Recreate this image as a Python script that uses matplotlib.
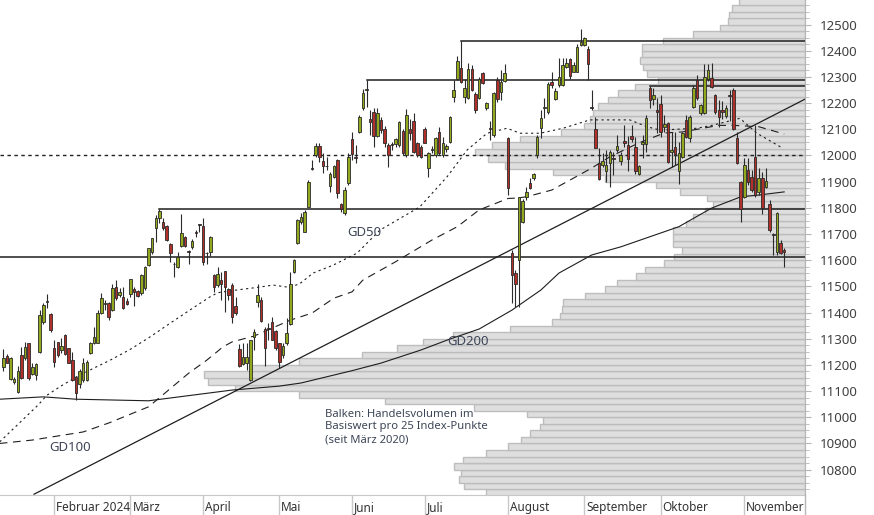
import matplotlib
matplotlib.use("Agg")
import matplotlib.pyplot as plt
from matplotlib.lines import Line2D
import numpy as np

plt.rcParams['font.family'] = ['Noto Sans', 'DejaVu Sans']

# SMI daily candles, 12.01.2024 - 18.11.2024, one entry per trading day
opens = [11193, 11235, 11146, 11133, 11095, 11236, 11225, 11282, 11165, 11161, 11250, 11365,
         11440, 11394, 11263, 11286, 11256, 11314, 11263, 11218, 11152, 11127, 11142, 11142,
         11244, 11282, 11284, 11397, 11432, 11435, 11409, 11496, 11467, 11458, 11445, 11471,
         11489, 11483, 11473, 11492, 11582, 11633, 11722, 11760, 11745, 11731, 11662, 11586,
         11575, 11654, 11687, 11633, 11649, 11705, 11736, 11731, 11628, 11633, 11543, 11505,
         11524, 11559, 11489, 11505, 11425, 11261, 11203, 11208, 11142, 11305, 11441, 11448,
         11339, 11340, 11365, 11330, 11282, 11238, 11282, 11356, 11555, 11664, 11747, 11709,
         11804, 11951, 12002, 12036, 11979, 11960, 11883, 11919, 11983, 11815, 11779, 11894,
         12062, 11995, 12091, 12180, 12250, 12140, 12168, 12075, 12136, 12100, 12040, 12043,
         12044, 12040, 12095, 12001, 12100, 12131, 12046, 12033, 12103, 11951, 12024, 12001,
         12091, 12001, 12023, 12052, 12222, 12291, 12333, 12222, 12218, 12329, 12235, 12218,
         12316, 12180, 12105, 12078, 12288, 12244, 12286, 12065, 11626, 11552, 11600, 11747,
         11843, 11896, 11913, 12003, 12106, 12183, 12167, 12280, 12216, 12269, 12269, 12339,
         12369, 12320, 12320, 12422, 12422, 12405, 12185, 12101, 11973, 11963, 11942, 11973,
         11992, 12022, 11979, 12057, 12041, 12076, 12031, 11931, 12044, 12045, 12257, 12216,
         12172, 12195, 12110, 12123, 12015, 12034, 11941, 11995, 12136, 12066, 12187, 12288,
         12161, 12161, 12292, 12297, 12231, 12174, 12172, 12152, 12233, 12250, 12066, 11900,
         11843, 11944, 11919, 11995, 11862, 11915, 11881, 11813, 11700, 11632, 11664, 11639]
highs = [11259, 11241, 11231, 11155, 11195, 11269, 11288, 11284, 11206, 11206, 11409, 11435,
         11470, 11397, 11295, 11288, 11301, 11320, 11263, 11250, 11155, 11183, 11228, 11218,
         11288, 11346, 11409, 11473, 11448, 11441, 11511, 11524, 11492, 11496, 11454, 11530,
         11497, 11487, 11547, 11578, 11648, 11686, 11773, 11794, 11760, 11734, 11664, 11594,
         11633, 11776, 11692, 11639, 11680, 11715, 11738, 11760, 11633, 11692, 11547, 11575,
         11556, 11560, 11492, 11514, 11461, 11280, 11285, 11285, 11297, 11336, 11511, 11461,
         11346, 11359, 11384, 11333, 11285, 11282, 11378, 11556, 11603, 11756, 11780, 11792,
         11906, 11983, 12047, 12047, 12008, 11996, 11938, 11964, 11985, 11820, 11881, 12008,
         12091, 12040, 12155, 12253, 12290, 12174, 12180, 12180, 12148, 12113, 12046, 12050,
         12065, 12133, 12100, 12176, 12138, 12161, 12052, 12040, 12107, 12014, 12036, 12069,
         12107, 12071, 12045, 12151, 12288, 12380, 12436, 12291, 12354, 12345, 12244, 12301,
         12320, 12205, 12130, 12244, 12298, 12326, 12349, 12072, 11638, 11562, 11843, 11832,
         11880, 11914, 11935, 12080, 12174, 12218, 12281, 12320, 12256, 12371, 12371, 12371,
         12371, 12358, 12425, 12483, 12452, 12420, 12249, 12148, 12027, 12008, 12021, 12021,
         12014, 12078, 12014, 12116, 12076, 12116, 12071, 11963, 12078, 12155, 12265, 12257,
         12218, 12231, 12155, 12129, 12091, 12091, 12053, 12091, 12155, 12155, 12269, 12308,
         12195, 12348, 12348, 12352, 12234, 12212, 12210, 12193, 12250, 12257, 12091, 11902,
         11989, 11989, 11944, 12116, 11951, 11938, 11951, 11830, 11705, 11785, 11677, 11645]
lows = [11177, 11206, 11142, 11129, 11091, 11148, 11218, 11142, 11161, 11142, 11246, 11358,
        11416, 11327, 11193, 11231, 11246, 11237, 11206, 11139, 11065, 11110, 11135, 11139,
        11241, 11279, 11282, 11394, 11409, 11371, 11407, 11448, 11460, 11412, 11428, 11460,
        11425, 11461, 11467, 11488, 11579, 11624, 11671, 11741, 11715, 11675, 11594, 11537,
        11569, 11652, 11652, 11585, 11641, 11687, 11709, 11582, 11585, 11616, 11480, 11496,
        11448, 11403, 11448, 11359, 11391, 11193, 11199, 11180, 11140, 11257, 11422, 11365,
        11196, 11295, 11295, 11257, 11187, 11225, 11276, 11352, 11550, 11662, 11740, 11706,
        11802, 11945, 11996, 11976, 11932, 11945, 11862, 11915, 11836, 11785, 11771, 11887,
        11983, 11970, 12087, 12174, 12187, 12078, 12031, 12072, 12085, 12034, 11955, 12020,
        12034, 12033, 12001, 11995, 12059, 12008, 11995, 11989, 12046, 11919, 12010, 11995,
        12001, 11995, 12015, 12046, 12205, 12288, 12278, 12199, 12214, 12247, 12163, 12214,
        12273, 12175, 12060, 12072, 12205, 12212, 12282, 11849, 11435, 11422, 11422, 11743,
        11830, 11872, 11905, 11990, 12066, 12142, 12160, 12257, 12211, 12263, 12266, 12333,
        12294, 12320, 12318, 12419, 12419, 12290, 12174, 12027, 11906, 11957, 11900, 11881,
        11925, 12014, 11963, 12033, 11941, 12053, 11930, 11927, 11991, 12014, 12180, 12193,
        12085, 12072, 12091, 11970, 11957, 11964, 11890, 11989, 12066, 12050, 12180, 12212,
        12155, 12157, 12285, 12257, 12157, 12110, 12140, 12142, 12130, 12097, 11966, 11745,
        11839, 11887, 11862, 11843, 11849, 11775, 11877, 11709, 11620, 11620, 11622, 11575]
closes = [11225, 11208, 11228, 11146, 11177, 11151, 11269, 11151, 11193, 11202, 11390, 11428,
          11442, 11333, 11212, 11237, 11272, 11241, 11208, 11142, 11091, 11177, 11209, 11212,
          11282, 11307, 11397, 11454, 11435, 11384, 11492, 11454, 11479, 11416, 11432, 11527,
          11480, 11464, 11543, 11575, 11645, 11683, 11760, 11788, 11722, 11677, 11626, 11584,
          11613, 11703, 11654, 11631, 11675, 11703, 11734, 11594, 11626, 11687, 11496, 11547,
          11509, 11496, 11467, 11384, 11397, 11197, 11231, 11231, 11295, 11325, 11467, 11369,
          11263, 11338, 11297, 11263, 11212, 11272, 11323, 11511, 11601, 11753, 11766, 11786,
          11900, 11949, 12036, 11996, 11960, 11958, 11929, 11960, 11855, 11794, 11868, 11996,
          12006, 11990, 12146, 12240, 12252, 12128, 12075, 12164, 12097, 12046, 12002, 12040,
          12062, 12129, 12008, 12154, 12087, 12014, 12001, 11995, 12049, 12008, 12022, 12065,
          12010, 12049, 12036, 12148, 12252, 12362, 12282, 12256, 12329, 12250, 12173, 12294,
          12278, 12201, 12103, 12237, 12214, 12282, 12314, 11874, 11543, 11511, 11840, 11826,
          11862, 11875, 11929, 12072, 12144, 12186, 12272, 12269, 12246, 12301, 12346, 12352,
          12305, 12346, 12416, 12435, 12448, 12348, 12180, 12030, 11910, 11978, 11963, 12014,
          11988, 12036, 12002, 12047, 11987, 12063, 11942, 11960, 12051, 12144, 12212, 12231,
          12168, 12088, 12120, 11976, 12020, 12004, 12008, 12085, 12072, 12148, 12259, 12218,
          12193, 12301, 12327, 12263, 12165, 12148, 12168, 12180, 12229, 12101, 11970, 11795,
          11964, 11897, 11868, 11849, 11913, 11798, 11903, 11715, 11698, 11779, 11626, 11630]

# month starts (trading day index) and labels
month_idx = [14, 35, 55, 76, 96, 116, 139, 160, 181, 204]
month_lbl = ['Februar 2024', 'März', 'April', 'Mai', 'Juni', 'Juli', 'August',
             'September', 'Oktober', 'November']

# moving averages (day index, value)
gd50_day = [-1, 9.6, 12, 15.6, 20.2, 25.7, 29.4, 34.9, 40.4, 45.9, 51.4, 56.9, 59.1, 62.4,
            69.9, 74.3, 78.9, 81.7, 85.3, 90.8, 97.4, 103.7, 114.7, 122.2, 127.7, 133.2,
            138.7, 142.3, 147.8, 154.1, 161.5, 172.5, 177.2, 180.8, 191, 195.4, 202.8,
            207.5, 214.7]
gd50_val = [10906, 11047, 11084, 11117, 11155, 11193, 11218, 11259, 11307, 11359, 11410,
            11460, 11476, 11483, 11496, 11505, 11496, 11511, 11551, 11581, 11627, 11715,
            11804, 11919, 12021, 12085, 12104, 12085, 12085, 12104, 12136, 12136, 12110,
            12097, 12104, 12116, 12142, 12085, 12027]
gd100_day = [-1, 8, 22, 29, 40, 45.5, 51, 56, 60.5, 63, 69, 79, 85, 91, 96, 99, 108, 118,
             125, 131, 139, 141, 144, 151, 156, 162, 167, 175, 182, 187, 197, 201, 208, 215]
gd100_val = [10900, 10913, 10944, 10978, 11040, 11104, 11168, 11218, 11269, 11288, 11310,
             11371, 11398, 11455, 11479, 11524, 11594, 11677, 11728, 11792, 11836, 11837,
             11842, 11868, 11906, 11952, 11995, 12048, 12086, 12090, 12115, 12115, 12110,
             12082]
gd200_day = [-1, 11, 20, 40, 63, 76, 82, 96, 104, 115, 123, 131, 140, 148, 153, 162, 170,
             186, 195, 203, 208, 215]
gd200_val = [11069, 11078, 11069, 11063, 11104, 11119, 11131, 11178, 11207, 11257, 11299,
             11337, 11409, 11486, 11551, 11620, 11651, 11728, 11799, 11842, 11849, 11861]

# trend line and horizontal levels (start day, level)
trend_day = [8.45, 220.7]
trend_val = [10706, 12215]
level_start = [-1, 43, 100, 126, 178]
level_val = [11612, 11794, 12290, 12436, 12265]

# volume profile: bin lower edge (25 points per bin) and bar length
vol_bin = list(range(10700, 12600, 25))
vol_len = [319, 341, 346, 344, 351, 342, 319, 297, 284, 275, 265, 262, 278, 331, 420, 506,
           570, 597, 601, 555, 506, 443, 408, 382, 352, 295, 253, 245, 243, 242, 220, 200,
           188, 169, 160, 141, 131, 123, 132, 132, 132, 119, 112, 100, 92, 98, 125, 149,
           200, 252, 300, 317, 330, 313, 285, 244, 221, 215, 212, 207, 197, 187, 170, 147,
           158, 162, 165, 163, 163, 142, 112, 85, 77, 76, 73, 66]

W, H = 874, 515
fig = plt.figure(figsize=(W / 100, H / 100), dpi=100)
ax = fig.add_axes([0, 20.5 / H, 805 / W, 494.5 / H])
axv = ax.twiny()
ax.set_zorder(axv.get_zorder() + 1)
ax.patch.set_visible(False)

# volume bars from the right edge
axv.barh(np.array(vol_bin) + 12.5, vol_len, height=25, left=0, color='#dedede',
         edgecolor='#bdbdbd', linewidth=1)
axv.set_xlim(805, 0)
axv.axis('off')

xmin, xmax = -0.91, 220.73
ax.set_xlim(xmin, xmax)
ax.set_ylim(10705, 12594)

# levels
ax.axhline(12000, color='#222222', lw=1, ls=(0, (2.5, 2.5)), zorder=2)
for s, v in zip(level_start, level_val):
    ax.plot([s, xmax], [v, v], color='#1e1e1e', lw=1.1, zorder=2)
ax.plot(trend_day, trend_val, color='#1e1e1e', lw=0.9, zorder=2)

ax.plot(gd50_day, gd50_val, color='#1e1e1e', lw=0.8, ls=(0, (2, 3)), zorder=3)
ax.plot(gd100_day, gd100_val, color='#1e1e1e', lw=0.8, ls=(0, (7, 5)), zorder=3)
ax.plot(gd200_day, gd200_val, color='#1e1e1e', lw=0.8, zorder=3)

# candles
o = np.array(opens)
c = np.array(closes)
idx = np.arange(len(o))
ax.vlines(idx, lows, highs, color='#2a2a2a', lw=0.8, zorder=4)
body_lo = np.minimum(o, c)
body_h = np.maximum(np.abs(c - o), 3)
cols = np.where(c >= o, '#93a81d', '#b2302a')
ax.bar(idx, body_h, bottom=body_lo, width=0.7, color=cols, edgecolor='#2a2a2a',
       linewidth=0.6, zorder=5)

txt_col = '#3d4657'
ax.text(94.6, 11704, 'GD50', fontsize=9.5, color=txt_col, va='center', ha='left', zorder=6)
ax.text(122.2, 11291, 'GD200', fontsize=9.5, color=txt_col, va='center', ha='left', zorder=6)
ax.text(12.6, 10886, 'GD100', fontsize=9.5, color=txt_col, va='center', ha='left', zorder=6)
ax.text(88.6, 11032, 'Balken: Handelsvolumen im\nBasiswert pro 25 Index-Punkte\n(seit März 2020)',
        fontsize=8.1, color=txt_col, va='top', ha='left', linespacing=1.2, zorder=6)

# axes styling
for side in ['left', 'top']:
    ax.spines[side].set_visible(False)
ax.spines['right'].set_color('#b5b5b5')
ax.spines['bottom'].set_color('#c8c8c8')
ax.yaxis.tick_right()
ax.set_yticks(range(10800, 12600, 100))
ax.set_yticks(np.arange(10725, 12600, 25), minor=True)
ax.tick_params(axis='y', which='major', length=4.5, color='#b5b5b5', labelsize=9.5,
               labelcolor='#404040', pad=6)
ax.tick_params(axis='y', which='minor', length=3, color='#b5b5b5')
ax.set_xticks(month_idx)
ax.set_xticklabels([])
ax.tick_params(axis='x', length=20.5 * 0.72, color='#c8c8c8', width=1)
for m, lbl in zip(month_idx, month_lbl):
    ax.text(m + 0.55, -0.026, lbl, transform=ax.get_xaxis_transform(), fontsize=8.5,
            color='#333333', ha='left', va='center')
fig.add_artist(Line2D([805 / W, 805 / W], [0, 20.5 / H], color='#b5b5b5', lw=1))

fig.savefig('out.png', dpi=100)
